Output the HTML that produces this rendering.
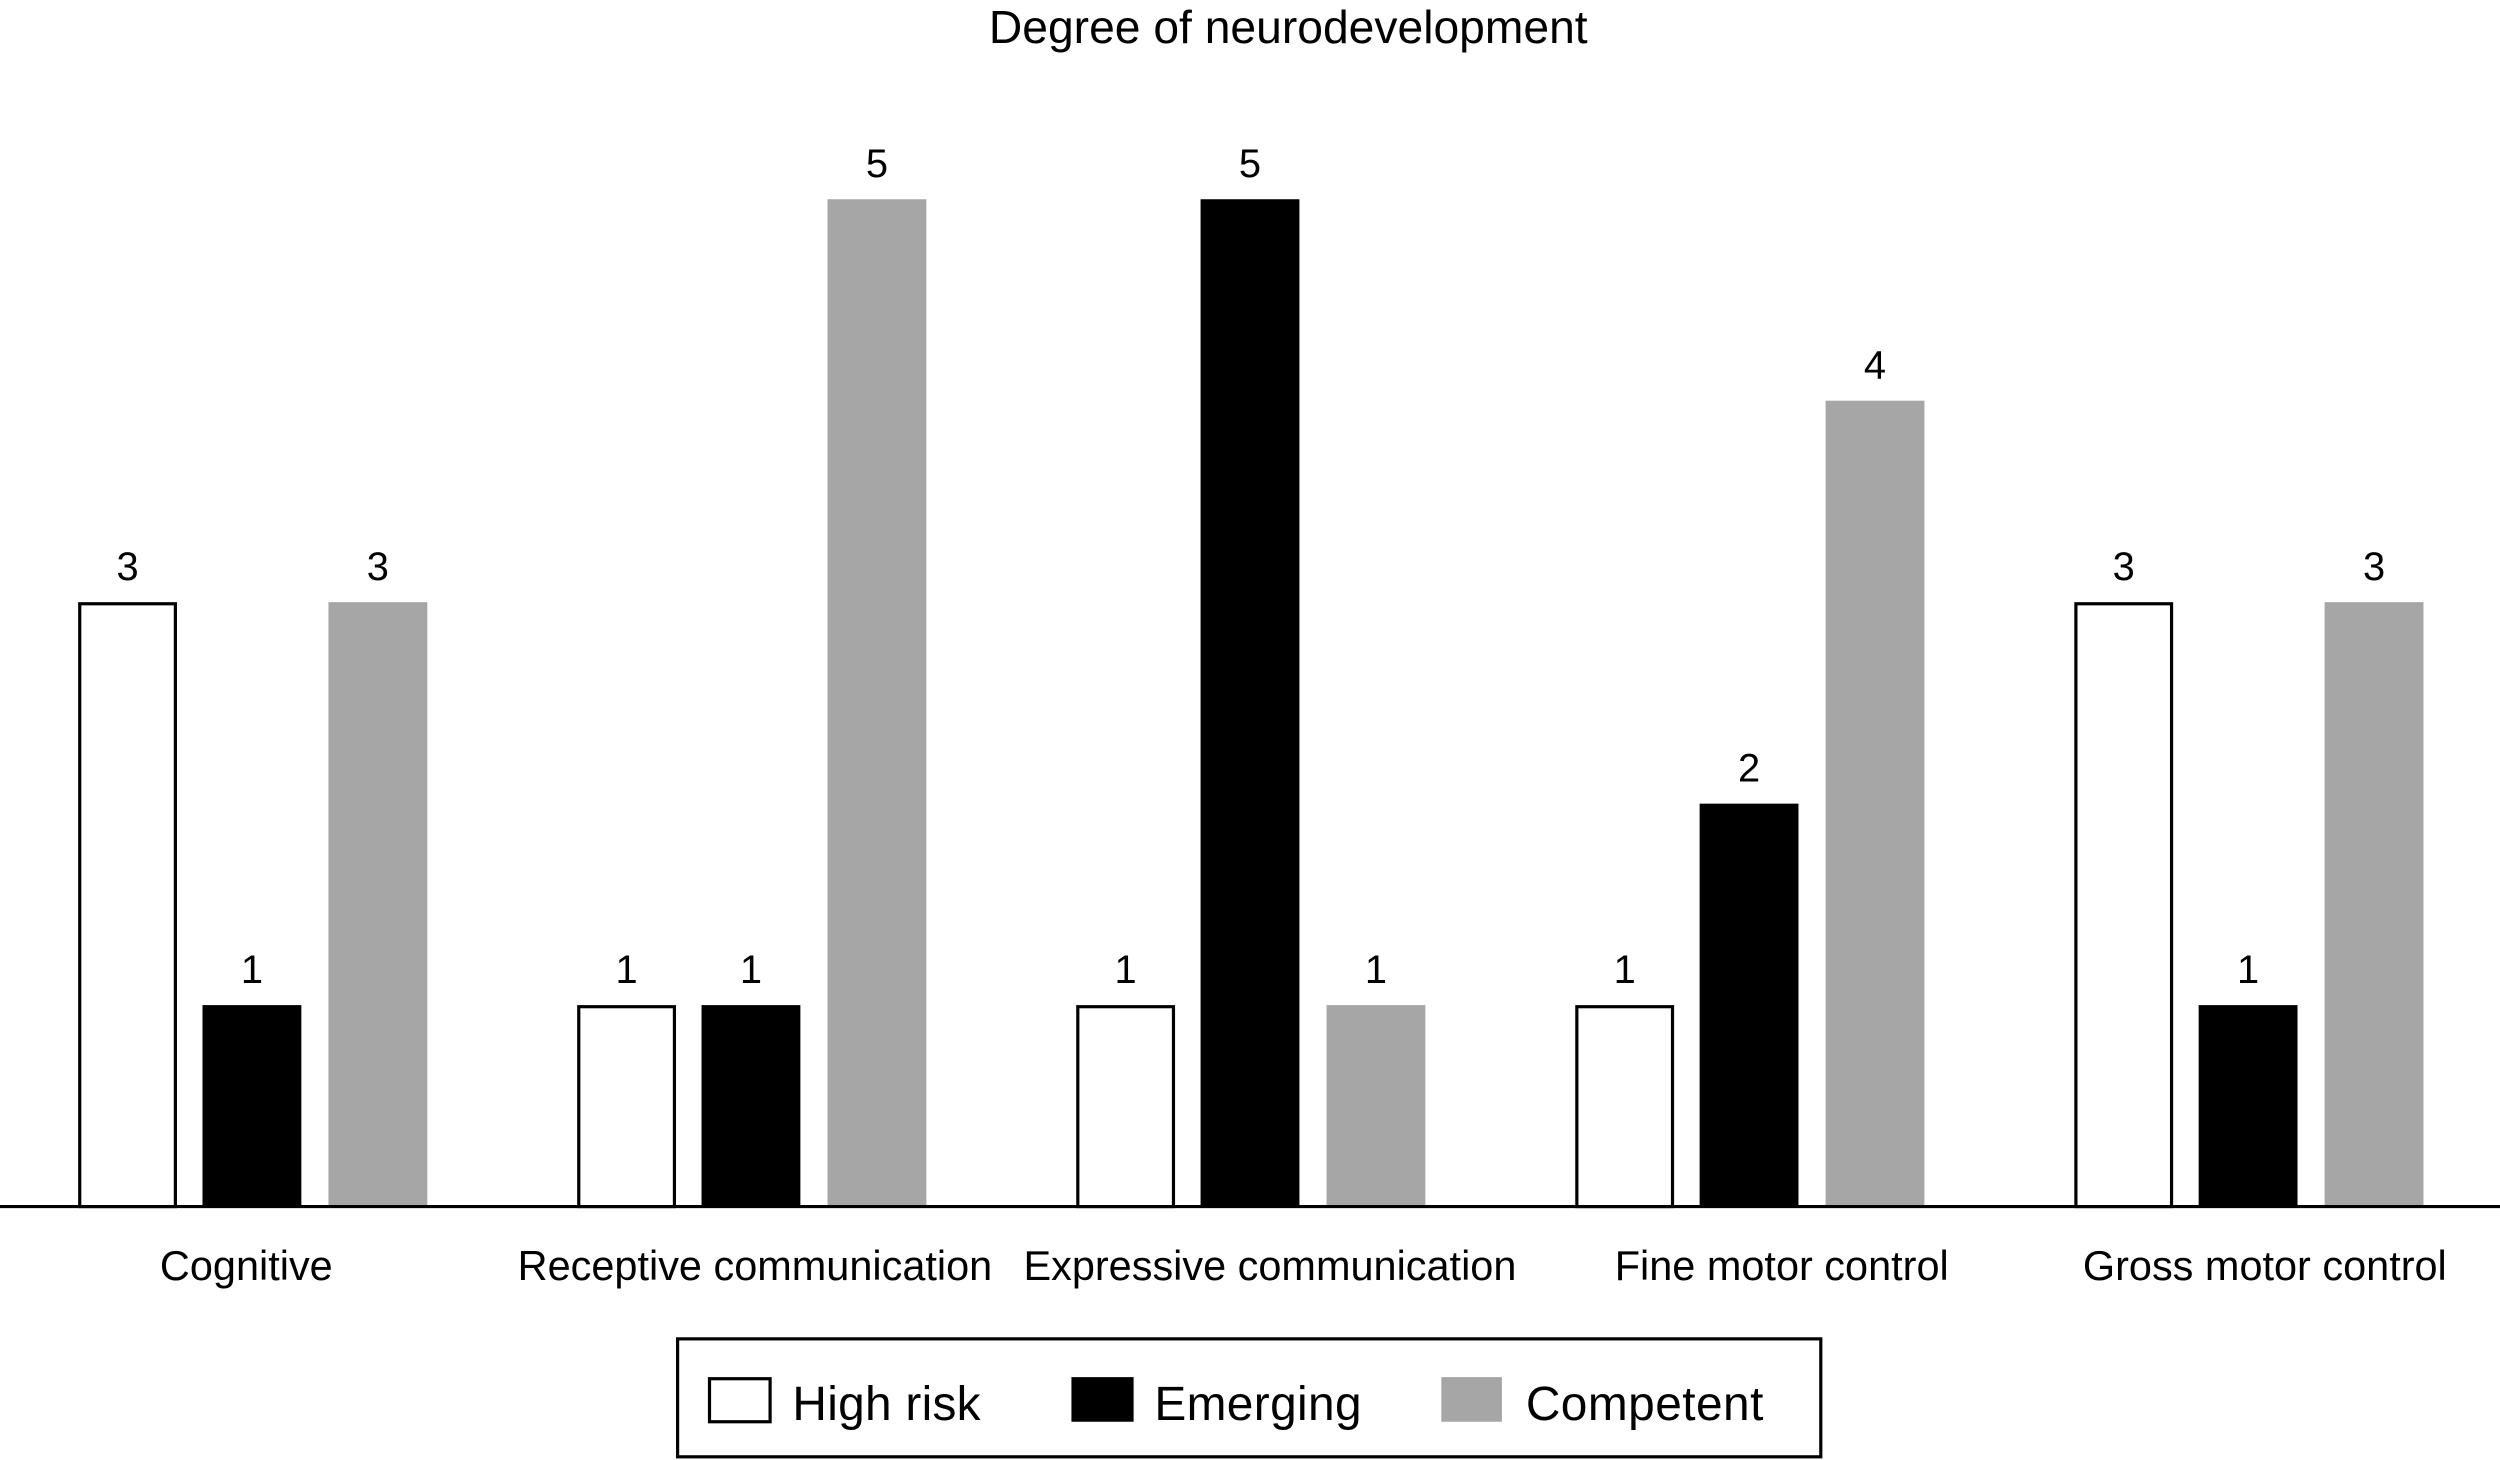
<!DOCTYPE html>
<html><head><meta charset="utf-8"><style>
html,body{margin:0;padding:0;background:#fff;}
svg{display:block;font-family:"Liberation Sans",Arial,sans-serif;}
</style></head><body>
<svg id="chart" width="2500" height="1460" viewBox="0 0 1568 916" preserveAspectRatio="none">
<text x="808" y="27" text-anchor="middle" font-size="29">Degree of neurodevelopment</text>
<g id="bars"></g>
<line x1="0" y1="757" x2="1568" y2="757" stroke="#000" stroke-width="2"/>
<g>
<rect x="425" y="840" width="717" height="74" fill="#fff" stroke="#000" stroke-width="2"/>
<g>
<rect x="445" y="865" width="38" height="27" fill="#fff" stroke="#000" stroke-width="2"/>
<text x="497" y="891" font-size="30" textLength="118">High risk</text></g>
<g>
<rect x="672" y="864" width="39" height="28" fill="#000"/>
<text x="724" y="891" font-size="30" textLength="130">Emerging</text></g>
<g>
<rect x="904" y="864" width="38" height="28" fill="#a6a6a6"/>
<text x="957" y="891" font-size="30" textLength="149">Competent</text></g>
</g>
</svg>
<script>
const categories = ["Cognitive","Receptive communication","Expressive communication","Fine motor control","Gross motor control"];
const highRisk = [3,1,1,1,3];
const emerging = [1,1,5,2,1];
const competent = [3,5,1,4,3];
const seriesNames = ["high-risk","emerging","competent"];

const NS = "http://www.w3.org/2000/svg";
const g = document.getElementById("bars");
const y0 = 757, yTop5 = 125;
function yScale(v){ return y0 - v * (y0 - yTop5) / 5; }
function groupX(i){ return 49 + 313 * i; }
const offsets = [0, 78, 157], bw = 62;
const labelShift = [-4, 2, 12, 20, 10];
const fills = ["#fff","#000","#a6a6a6"];
const series = [highRisk, emerging, competent];
categories.forEach((c, i) => {
  series.forEach((s, k) => {
    const v = s[i];
    const x = groupX(i) + offsets[k];
    const r = document.createElementNS(NS, "rect");
    const hr = k === 0;
    r.setAttribute("x", hr ? x + 1 : x);
    r.setAttribute("y", hr ? yScale(v) + 1 : yScale(v));
    r.setAttribute("width", hr ? bw - 2 : bw);
    r.setAttribute("height", hr ? y0 - yScale(v) - 1 : y0 - yScale(v));
    r.setAttribute("fill", fills[k]);
    if (hr) { r.setAttribute("stroke", "#000"); r.setAttribute("stroke-width", "2"); }
    
    
    g.appendChild(r);
    const t = document.createElementNS(NS, "text");
    t.setAttribute("x", x + bw / 2);
    t.setAttribute("y", yScale(v) - 14);
    t.setAttribute("text-anchor", "middle");
    t.setAttribute("font-size", "25");
    t.textContent = v;
    
    
    g.appendChild(t);
  });
  const lbl = document.createElementNS(NS, "text");
  lbl.setAttribute("x", groupX(i) + (offsets[2] + bw) / 2 + labelShift[i]);
  lbl.setAttribute("y", 803);
  lbl.setAttribute("text-anchor", "middle");
  lbl.setAttribute("font-size", "26");
  lbl.textContent = c;
  
  
  g.appendChild(lbl);
});
</script>
</body></html>
